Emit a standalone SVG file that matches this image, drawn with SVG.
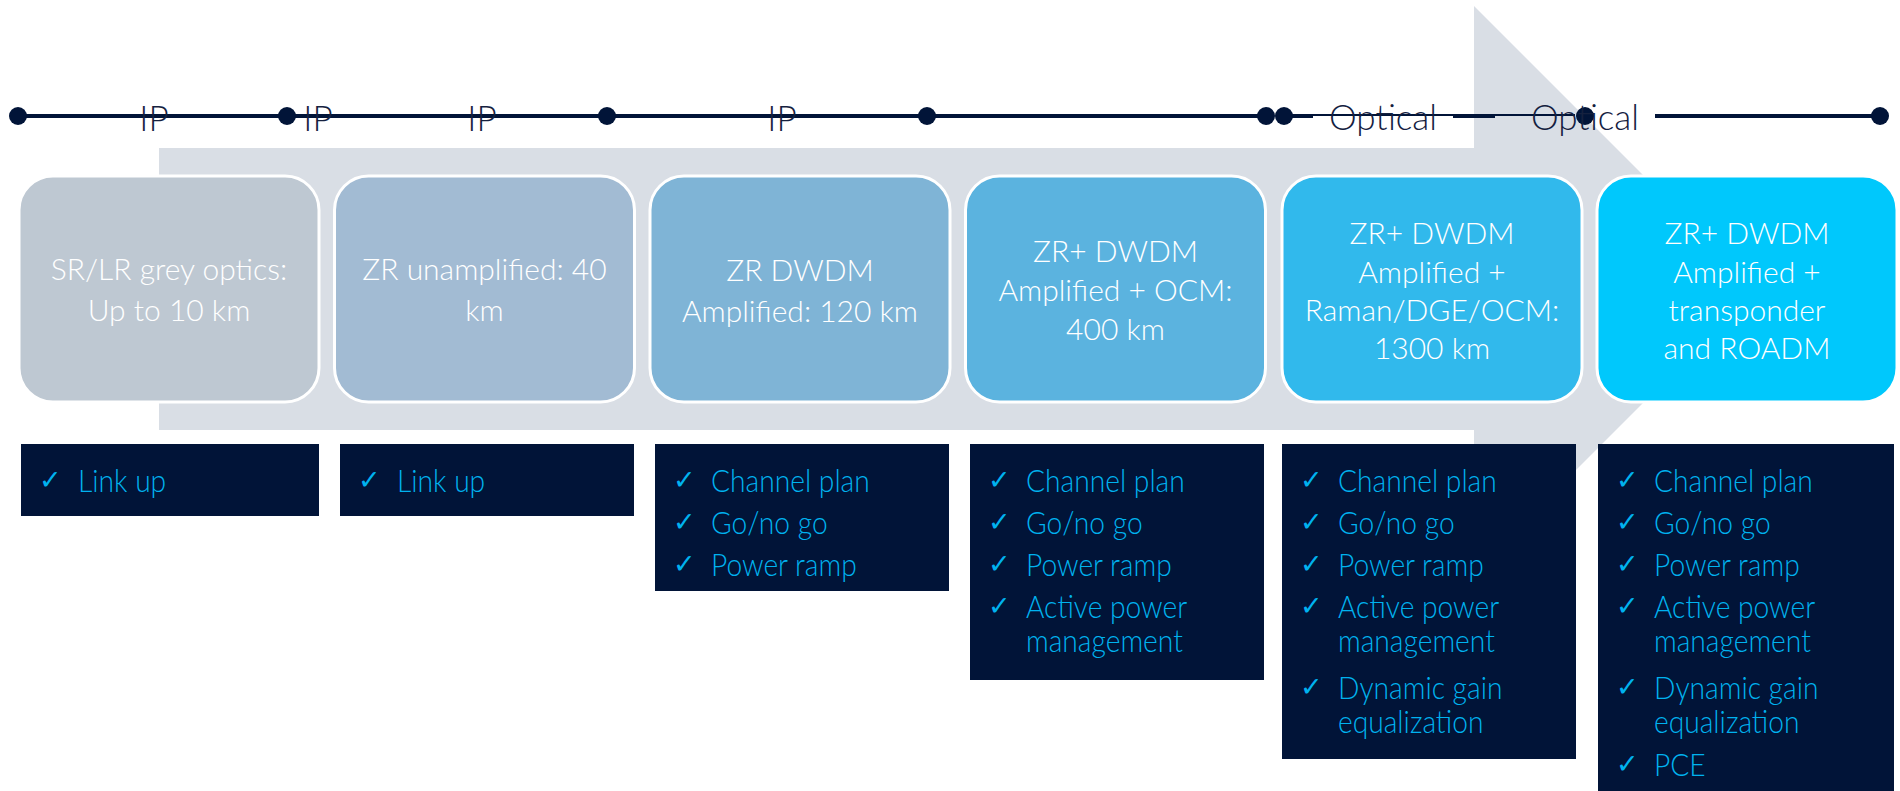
<svg xmlns="http://www.w3.org/2000/svg" width="1900" height="791" viewBox="0 0 1900 791">
<style>
  .lbl { font-family: Lato, "Open Sans", "Liberation Sans", sans-serif; font-weight: 300; font-size: 35px; fill: #15213F; text-anchor: middle; }
  .bt { font-family: Lato, "Open Sans", "Liberation Sans", sans-serif; font-weight: 300; font-size: 30px; fill: #FFFFFF; text-anchor: middle; }
  .ct { font-family: Lato, "Open Sans", "Liberation Sans", sans-serif; font-weight: 300; font-size: 31px; fill: #00B2EF; }
  .ck { font-family: "DejaVu Sans", sans-serif; font-weight: bold; font-size: 27px; fill: #00B2EF; }
  .box { stroke: #FFFFFF; stroke-width: 3; }
  .list { fill: #011438; }
  .thick { stroke: #011438; stroke-width: 4; fill: none; }
  .thin { stroke: #011438; stroke-width: 2; fill: none; }
  .dot { fill: #011438; }
</style>
<rect width="1900" height="791" fill="#FFFFFF"/>
<polygon id="arrow" points="159,148 1474,148 1474,6 1757,289 1474,572 1474,430 159,430" fill="#D9DEE5"/>

<g id="connectors">
  <line class="thick" x1="17" y1="116" x2="1266" y2="116"/>
  <line class="thick" x1="1283" y1="116" x2="1313" y2="116"/>
  <line class="thin" x1="1313" y1="115" x2="1453" y2="115"/>
  <line class="thick" x1="1453" y1="116" x2="1495" y2="116"/>
  <line class="thin" x1="1495" y1="115" x2="1575" y2="115"/>
  <line class="thick" x1="1655" y1="116" x2="1880" y2="116"/>
  <circle class="dot" cx="18" cy="116" r="9"/>
  <circle class="dot" cx="287" cy="116" r="9"/>
  <circle class="dot" cx="607" cy="116" r="9"/>
  <circle class="dot" cx="927" cy="116" r="9"/>
  <circle class="dot" cx="1266" cy="116" r="9"/>
  <circle class="dot" cx="1284" cy="116" r="9"/>
  <circle class="dot" cx="1585" cy="116" r="9"/>
  <circle class="dot" cx="1880" cy="116" r="9"/>
</g>

<g id="labels">
  <text class="lbl" x="154" y="131">IP</text>
  <text class="lbl" x="318" y="131">IP</text>
  <text class="lbl" x="482" y="131">IP</text>
  <text class="lbl" x="782" y="131">IP</text>
  <text class="lbl" x="1383" y="130">Optical</text>
  <text class="lbl" x="1585" y="130">Optical</text>
</g>

<g id="stage1">
  <rect class="box" x="19" y="176" width="300" height="226" rx="34" fill="#BEC8D2"/>
  <text class="bt" x="169" y="280">SR/LR grey optics:</text>
  <text class="bt" x="169" y="321">Up to 10 km</text>
</g>
<g id="stage2">
  <rect class="box" x="334.5" y="176" width="300" height="226" rx="34" fill="#A2BBD3"/>
  <text class="bt" x="484.5" y="280">ZR unamplified: 40</text>
  <text class="bt" x="484.5" y="321">km</text>
</g>
<g id="stage3">
  <rect class="box" x="650" y="176" width="300" height="226" rx="34" fill="#7FB4D6"/>
  <text class="bt" x="800" y="281">ZR DWDM</text>
  <text class="bt" x="800" y="322">Amplified: 120 km</text>
</g>
<g id="stage4">
  <rect class="box" x="965.5" y="176" width="300" height="226" rx="34" fill="#5BB3DF"/>
  <text class="bt" x="1115.5" y="262">ZR+ DWDM</text>
  <text class="bt" x="1115.5" y="301">Amplified + OCM:</text>
  <text class="bt" x="1115.5" y="340">400 km</text>
</g>
<g id="stage5">
  <rect class="box" x="1282" y="176" width="300" height="226" rx="34" fill="#31B9EC"/>
  <text class="bt" x="1432" y="244">ZR+ DWDM</text>
  <text class="bt" x="1432" y="283">Amplified +</text>
  <text class="bt" x="1432" y="321">Raman/DGE/OCM:</text>
  <text class="bt" x="1432" y="359">1300 km</text>
</g>
<g id="stage6">
  <rect class="box" x="1597" y="176" width="300" height="226" rx="34" fill="#00C8FC"/>
  <text class="bt" x="1747" y="244">ZR+ DWDM</text>
  <text class="bt" x="1747" y="283">Amplified +</text>
  <text class="bt" x="1747" y="321">transponder</text>
  <text class="bt" x="1747" y="359">and ROADM</text>
</g>

<g id="list1">
  <rect class="list" x="21" y="444" width="298" height="72"/>
  <text class="ck" x="39" y="489">✓</text>
  <g transform="translate(78 0) scale(0.91 1)">
    <text class="ct" x="0" y="492">Link up</text>
  </g>
</g>
<g id="list2">
  <rect class="list" x="340" y="444" width="294" height="72"/>
  <text class="ck" x="358" y="489">✓</text>
  <g transform="translate(397 0) scale(0.91 1)">
    <text class="ct" x="0" y="492">Link up</text>
  </g>
</g>
<g id="list3">
  <rect class="list" x="655" y="444" width="294" height="147"/>
  <text class="ck" x="673" y="489">✓</text>
  <text class="ck" x="673" y="531">✓</text>
  <text class="ck" x="673" y="573">✓</text>
  <g transform="translate(711 0) scale(0.91 1)">
    <text class="ct" x="0" y="492">Channel plan</text>
    <text class="ct" x="0" y="534">Go/no go</text>
    <text class="ct" x="0" y="576">Power ramp</text>
  </g>
</g>
<g id="list4">
  <rect class="list" x="970" y="444" width="294" height="236"/>
  <text class="ck" x="988" y="489">✓</text>
  <text class="ck" x="988" y="531">✓</text>
  <text class="ck" x="988" y="573">✓</text>
  <text class="ck" x="988" y="615">✓</text>
  <g transform="translate(1026 0) scale(0.91 1)">
    <text class="ct" x="0" y="492">Channel plan</text>
    <text class="ct" x="0" y="534">Go/no go</text>
    <text class="ct" x="0" y="576">Power ramp</text>
    <text class="ct" x="0" y="618">Active power</text>
    <text class="ct" x="0" y="652">management</text>
  </g>
</g>
<g id="list5">
  <rect class="list" x="1282" y="444" width="294" height="315"/>
  <text class="ck" x="1300" y="489">✓</text>
  <text class="ck" x="1300" y="531">✓</text>
  <text class="ck" x="1300" y="573">✓</text>
  <text class="ck" x="1300" y="615">✓</text>
  <text class="ck" x="1300" y="696">✓</text>
  <g transform="translate(1338 0) scale(0.91 1)">
    <text class="ct" x="0" y="492">Channel plan</text>
    <text class="ct" x="0" y="534">Go/no go</text>
    <text class="ct" x="0" y="576">Power ramp</text>
    <text class="ct" x="0" y="618">Active power</text>
    <text class="ct" x="0" y="652">management</text>
    <text class="ct" x="0" y="699">Dynamic gain</text>
    <text class="ct" x="0" y="733">equalization</text>
  </g>
</g>
<g id="list6">
  <rect class="list" x="1598" y="444" width="296" height="347"/>
  <text class="ck" x="1616" y="489">✓</text>
  <text class="ck" x="1616" y="531">✓</text>
  <text class="ck" x="1616" y="573">✓</text>
  <text class="ck" x="1616" y="615">✓</text>
  <text class="ck" x="1616" y="696">✓</text>
  <text class="ck" x="1616" y="773">✓</text>
  <g transform="translate(1654 0) scale(0.91 1)">
    <text class="ct" x="0" y="492">Channel plan</text>
    <text class="ct" x="0" y="534">Go/no go</text>
    <text class="ct" x="0" y="576">Power ramp</text>
    <text class="ct" x="0" y="618">Active power</text>
    <text class="ct" x="0" y="652">management</text>
    <text class="ct" x="0" y="699">Dynamic gain</text>
    <text class="ct" x="0" y="733">equalization</text>
    <text class="ct" x="0" y="776">PCE</text>
  </g>
</g>
</svg>
